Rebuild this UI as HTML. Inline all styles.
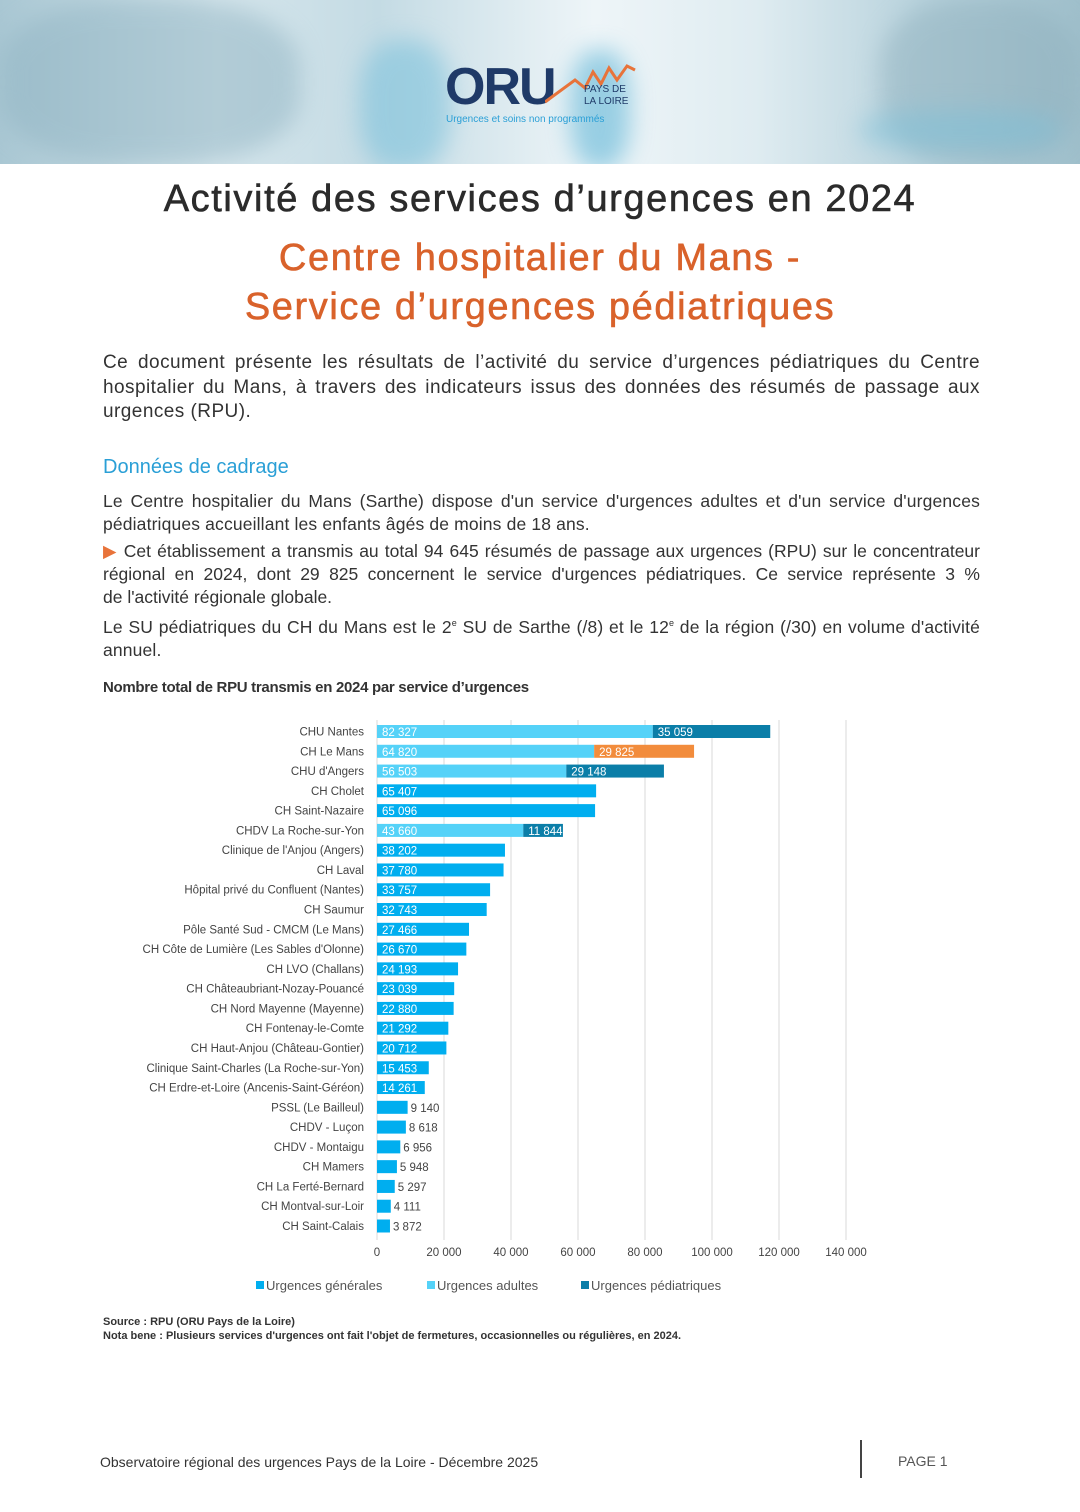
<!DOCTYPE html>
<html><head><meta charset="utf-8"><style>
body{margin:0;width:1080px;height:1512px;background:#fff;font-family:"Liberation Sans",sans-serif;position:relative;overflow:hidden;color:#333}
.hdr{position:absolute;left:0;top:0;width:1080px;height:164px;background:linear-gradient(90deg,#a9c7d3 0%,#d6e6ec 20%,#c4dbe4 35%,#eef5f8 55%,#dfecf1 70%,#b9d3dd 85%,#9fbfcb 100%);overflow:hidden}
.blob{position:absolute;border-radius:40%;filter:blur(12px)}
.t{position:absolute;white-space:nowrap}
p.b{position:absolute;left:103px;width:877px;margin:0;text-align:justify;font-size:17.5px;line-height:23px;color:#333;letter-spacing:0.15px}
.j{display:block;text-align:justify;text-align-last:justify;white-space:nowrap}
</style></head><body>
<div class="hdr">
 <div class="blob" style="left:0;top:0;width:300px;height:164px;background:#8fb3c2;opacity:.5"></div>
 <div class="blob" style="left:360px;top:40px;width:90px;height:130px;background:#7fc3dc;opacity:.6"></div>
 <div class="blob" style="left:570px;top:50px;width:60px;height:120px;background:#5fb5d6;opacity:.6"></div>
 <div class="blob" style="left:880px;top:0;width:200px;height:164px;background:#8fb0bd;opacity:.5"></div>
 <div class="blob" style="left:860px;top:110px;width:200px;height:40px;background:#7cc0d8;opacity:.5"></div>
 <div class="t" style="left:445px;top:57px;font-size:52px;font-weight:bold;color:#1f3a68;letter-spacing:-2px">ORU</div>
 <svg style="position:absolute;left:545px;top:62px" width="95" height="45"><polyline points="0,40 30,18 40,26 48,10 56,22 64,6 72,18 82,4 90,8" fill="none" stroke="#e8733a" stroke-width="3"/></svg>
 <div class="t" style="left:584px;top:84px;font-size:10px;color:#1f3a68;line-height:12px">PAYS DE<br>LA LOIRE</div>
 <div class="t" style="left:446px;top:114px;font-size:10px;color:#2a9fd6">Urgences et soins non programmés</div>
</div>
<div class="t" style="left:0;width:1080px;text-align:center;top:178px;font-size:38px;color:#2b2b2b;letter-spacing:1.6px;-webkit-text-stroke:0.6px #2b2b2b">Activité des services d’urgences en 2024</div>
<div class="t" style="left:0;width:1080px;text-align:center;top:234px;font-size:38px;color:#d9622b;line-height:49px;letter-spacing:1.6px;-webkit-text-stroke:0.6px #d9622b">Centre hospitalier du Mans -<br>Service d’urgences pédiatriques</div>
<p class="b" style="top:351px;font-size:19px;line-height:24.5px;letter-spacing:0.45px">Ce document présente les résultats de l’activité du service d’urgences pédiatriques du Centre hospitalier du Mans, à travers des indicateurs issus des données des résumés de passage aux urgences (RPU).</p>
<div class="t" style="left:103px;top:456px;font-size:20px;color:#2a9fd6">Données de cadrage</div>
<p class="b" style="top:490px">Le Centre hospitalier du Mans (Sarthe) dispose d'un service d'urgences adultes et d'un service d'urgences pédiatriques accueillant les enfants âgés de moins de 18 ans.</p>
<p class="b" style="top:540px;letter-spacing:0px"><span class="j"><span style="color:#e8733a">▶</span> Cet établissement a transmis au total 94 645 résumés de passage aux urgences (RPU) sur le concentrateur</span><span class="j">régional en 2024, dont 29 825 concernent le service d'urgences pédiatriques. Ce service représente 3&nbsp;%</span><span style="display:block">de l'activité régionale globale.</span></p>
<p class="b" style="top:612px">Le SU pédiatriques du CH du Mans est le 2<sup style="font-size:9px">e</sup> SU de Sarthe (/8) et le 12<sup style="font-size:9px">e</sup> de la région (/30) en volume d'activité annuel.</p>
<div class="t" style="left:103px;top:679px;font-size:15px;font-weight:bold;color:#333;letter-spacing:-0.3px">Nombre total de RPU transmis en 2024 par service d’urgences</div>
<div id="chart"></div>
<div class="t" style="left:103px;top:1315px;font-size:11px;font-weight:bold;line-height:14px">Source : RPU (ORU Pays de la Loire)<br>Nota bene : Plusieurs services d'urgences ont fait l'objet de fermetures, occasionnelles ou régulières, en 2024.</div>
<div class="t" style="left:100px;top:1454px;font-size:14px;color:#333">Observatoire régional des urgences Pays de la Loire - Décembre 2025</div>
<div style="position:absolute;left:860px;top:1440px;width:2px;height:38px;background:#444"></div>
<div class="t" style="left:898px;top:1453px;font-size:14px;color:#555">PAGE 1</div>
<script>
var rows=[["CHU Nantes",82327,35059,"A","P"],["CH Le Mans",64820,29825,"A","O"],["CHU d'Angers",56503,29148,"A","P"],["CH Cholet",65407],["CH Saint-Nazaire",65096],["CHDV La Roche-sur-Yon",43660,11844,"A","P"],["Clinique de l'Anjou (Angers)",38202],["CH Laval",37780],["Hôpital privé du Confluent (Nantes)",33757],["CH Saumur",32743],["Pôle Santé Sud - CMCM (Le Mans)",27466],["CH Côte de Lumière (Les Sables d'Olonne)",26670],["CH LVO (Challans)",24193],["CH Châteaubriant-Nozay-Pouancé",23039],["CH Nord Mayenne (Mayenne)",22880],["CH Fontenay-le-Comte",21292],["CH Haut-Anjou (Château-Gontier)",20712],["Clinique Saint-Charles (La Roche-sur-Yon)",15453],["CH Erdre-et-Loire (Ancenis-Saint-Géréon)",14261],["PSSL (Le Bailleul)",9140],["CHDV - Luçon",8618],["CHDV - Montaigu",6956],["CH Mamers",5948],["CH La Ferté-Bernard",5297],["CH Montval-sur-Loir",4111],["CH Saint-Calais",3872]];
var col={G:"#00aeef",A:"#55d2f8",P:"#0b7ea8",O:"#f28c3c"};
var x0=377,k=67/20000,s='<svg style="position:absolute;left:0;top:0" width="1080" height="1512" font-family="Liberation Sans, sans-serif">';
function f(n){return String(n).replace(/\B(?=(\d{3})+(?!\d))/g," ")}
for(var i=0;i<=7;i++){var x=x0+i*20000*k;if(i>0)s+='<line x1="'+x+'" y1="720" x2="'+x+'" y2="1240" stroke="#d9d9d9" stroke-width="1"/>';s+='<text x="'+x+'" y="1256" font-size="11.5" fill="#444" text-anchor="middle">'+f(i*20000)+'</text>'}
s+='<line x1="'+x0+'" y1="720" x2="'+x0+'" y2="1240" stroke="#d9d9d9"/>';
var y0=731.5,dy=(1226-731.5)/25;
rows.forEach(function(r,i){var y=y0+i*dy;s+='<text x="364" y="'+(y+4)+'" font-size="11.5" fill="#444" text-anchor="end">'+r[0].replace(/'/g,"&#39;")+'</text>';
 var c1=r.length>2?col.A:col.G,w=r[1]*k;s+='<rect x="'+x0+'" y="'+(y-6.5)+'" width="'+w+'" height="13" fill="'+c1+'"/>';
 if(r[1]>12000)s+='<text x="'+(x0+5)+'" y="'+(y+4.5)+'" font-size="11.5" fill="#fff">'+f(r[1])+'</text>';
 else s+='<text x="'+(x0+w+3)+'" y="'+(y+4.5)+'" font-size="11.5" fill="#444">'+f(r[1])+'</text>';
 if(r.length>2){var w2=r[2]*k;s+='<rect x="'+(x0+w)+'" y="'+(y-6.5)+'" width="'+w2+'" height="13" fill="'+col[r[4]]+'"/><text x="'+(x0+w+5)+'" y="'+(y+4.5)+'" font-size="11.5" fill="#fff">'+f(r[2])+'</text>'}
});
var lg=[["Urgences générales",col.G,256],["Urgences adultes",col.A,427],["Urgences pédiatriques",col.P,581]];
lg.forEach(function(l){s+='<rect x="'+l[2]+'" y="1281" width="8" height="8" fill="'+l[1]+'"/><text x="'+(l[2]+10)+'" y="1290" font-size="13" fill="#555">'+l[0]+'</text>'});
s+='</svg>';document.getElementById('chart').innerHTML=s;
</script>
</body></html>
